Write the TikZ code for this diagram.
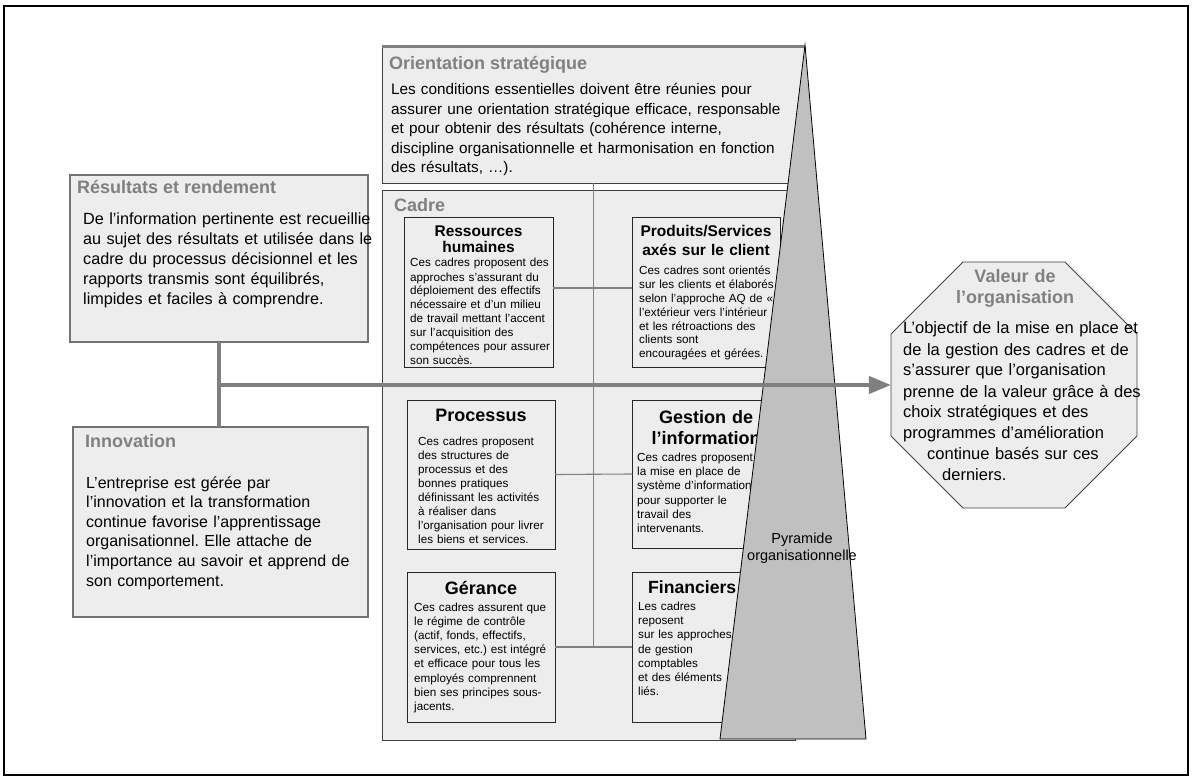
\documentclass[tikz,border=0pt]{standalone}
\usepackage{fontspec}
\setmainfont{Liberation Sans}
\frenchspacing
\usetikzlibrary{arrows.meta,shapes.geometric}
\definecolor{boxfill}{RGB}{237,237,237}
\definecolor{ttlgray}{RGB}{128,128,128}
\definecolor{pyrgray}{RGB}{192,192,192}
\definecolor{lngray}{RGB}{128,128,128}
\begin{document}
\begin{tikzpicture}[x=1pt,y=-1pt,
  box/.style={rectangle, draw=black!75, fill=boxfill, line width=0.8pt, inner sep=0, outer sep=0, anchor=north west},
  lbox/.style={box, draw=black!55, line width=1.2pt},
  ibox/.style={box, draw=black!85, line width=0.9pt},
  conn/.style={draw=lngray, line width=1.1pt},
  bigline/.style={draw=lngray, line width=4pt},
  ttl/.style={inner sep=0, anchor=base west, text=ttlgray, font=\fontsize{18}{21}\selectfont\bfseries},
  body/.style={inner sep=0, anchor=base west, align=left, text width=420pt},
  sbody/.style={body, font=\fontsize{11.7}{14}\selectfont},
  ctitle/.style={inner sep=0, anchor=base, align=center, text width=150pt}
]
\useasboundingbox (0,0) rectangle (1192,778);
\draw[line width=2pt] (4,6) rectangle (1188,775);

% main boxes
\node[box, minimum width=423pt, minimum height=136pt] (ori) at (382,47) {};
\draw[lngray, line width=3pt] (ori.north west) -- (ori.north east);
\node[box, minimum width=413pt, minimum height=550pt] (cad) at (382,190) {};
\node[lbox, minimum width=298pt, minimum height=167pt] (res) at (70,175) {};
\node[lbox, minimum width=295pt, minimum height=190pt] (inn) at (73,427) {};

% inner boxes
\node[ibox, minimum width=149pt, minimum height=150pt] (rh) at (404,217) {};
\node[ibox, minimum width=148pt, minimum height=150pt] (ps) at (632,217) {};
\node[ibox, minimum width=148pt, minimum height=149pt] (pro) at (407,400) {};
\node[ibox, minimum width=148pt, minimum height=148pt] (ges) at (632,400) {};
\node[ibox, minimum width=148pt, minimum height=150pt] (ger) at (407,572) {};
\node[ibox, minimum width=148pt, minimum height=150pt] (fin) at (632,572) {};

% connectors
\draw[conn] ([yshift=4pt]rh.east) -- ([yshift=4pt]ps.west);
\draw[conn] (pro.east) -- (ges.west);
\draw[conn] (ger.east) -- (fin.west);
\draw[conn] (ori.south) -- (ori.south |- ger.east);

% texts
\node[ttl] (oriT) at (389,70) {Orientation stratégique};
\node[body, font=\fontsize{15.3}{19.5}\selectfont] (oriB) at (391,95) {Les conditions essentielles doivent être réunies pour\\
assurer une orientation stratégique efficace, responsable\\
et pour obtenir des résultats (cohérence interne,\\
discipline organisationnelle et harmonisation en fonction\\
des résultats, …).};

\node[ttl] (resT) at (77,194) {Résultats et rendement};
\node[body, font=\fontsize{16.2}{20}\selectfont] (resB) at (83,225) {De l’information pertinente est recueillie\\
au sujet des résultats et utilisée dans le\\
cadre du processus décisionnel et les\\
rapports transmis sont équilibrés,\\
limpides et faciles à comprendre.};

\node[ttl] (innT) at (85,447) {Innovation};
\node[body, font=\fontsize{16}{19.6}\selectfont] (innB) at (86,488) {L’entreprise est gérée par\\
l’innovation et la transformation\\
continue favorise l’apprentissage\\
organisationnel. Elle attache de\\
l’importance au savoir et apprend de\\
son comportement.};

\node[ttl] (cadT) at (394,212) {Cadre};

\node[ctitle, font=\fontsize{15.5}{16}\selectfont\bfseries] (rhT) at (478.5,237) {Ressources\\humaines};
\node[sbody] (rhB) at (410,267) {Ces cadres proposent des\\
approches s’assurant du\\
déploiement des effectifs\\
nécessaire et d’un milieu\\
de travail mettant l’accent\\
sur l’acquisition des\\
compétences pour assurer\\
son succès.};

\node[ctitle, font=\fontsize{15.5}{19}\selectfont\bfseries] (psT) at (706,237) {Produits/Services\\axés sur le client};
\node[sbody, font=\fontsize{11.7}{13.8}\selectfont] (psB) at (639,275) {Ces cadres sont orientés\\
sur les clients et élaborés\\
selon l’approche AQ de «\\
l’extérieur vers l’intérieur\\
et les rétroactions des\\
clients sont\\
encouragées et gérées.};

\node[ctitle, font=\fontsize{18}{21}\selectfont\bfseries] (proT) at (481,421) {Processus};
\node[sbody] (proB) at (418,445) {Ces cadres proposent\\
des structures de\\
processus et des\\
bonnes pratiques\\
définissant les activités\\
à réaliser dans\\
l’organisation pour livrer\\
les biens et services.};

\node[ctitle, font=\fontsize{18}{21}\selectfont\bfseries] (gesT) at (706,423) {Gestion de\\l’information};
\node[sbody, font=\fontsize{11.7}{14.2}\selectfont] (gesB) at (637,461.5) {Ces cadres proposent\\
la mise en place de\\
système d’information\\
pour supporter le\\
travail des\\
intervenants.};

\node[ctitle, font=\fontsize{18}{21}\selectfont\bfseries] (gerT) at (481,594) {Gérance};
\node[sbody, font=\fontsize{11.7}{14.1}\selectfont] (gerB) at (414,611.5) {Ces cadres assurent que\\
le régime de contrôle\\
(actif, fonds, effectifs,\\
services, etc.) est intégré\\
et efficace pour tous les\\
employés comprennent\\
bien ses principes sous-\\
jacents.};

\node[inner sep=0, anchor=base west, font=\fontsize{17.6}{21}\selectfont\bfseries] (finT) at (648,593) {Financiers};
\node[sbody, font=\fontsize{11.7}{14.2}\selectfont] (finB) at (638,610.5) {Les cadres\\
reposent\\
sur les approches\\
de gestion\\
comptables\\
et des éléments\\
liés.};

% pyramid
\filldraw[fill=pyrgray, draw=black, line width=0.8pt] (805,45) -- (866,739) -- (720,739) -- cycle;
\node[ctitle, text width=130pt, font=\fontsize{14.5}{17}\selectfont] (pyrT) at (802,543) {Pyramide\\organisationnelle};

% octagon
\node[draw=black!75, fill=boxfill, line width=0.9pt, regular polygon, regular polygon sides=8, minimum size=266.3pt, inner sep=0, outer sep=0] (val) at (1014,385) {};
\node[ctitle, text=ttlgray, text width=200pt, font=\fontsize{18}{21}\selectfont\bfseries] (valT) at (1015,283) {Valeur de\\l’organisation};
\node[body, font=\fontsize{16.5}{21}\selectfont] (valB) at (903,334) {L’objectif de la mise en place et\\
de la gestion des cadres et de\\
s’assurer que l’organisation\\
prenne de la valeur grâce à des\\
choix stratégiques et des\\
programmes d’amélioration\\
\hspace*{24pt}continue basés sur ces\\
\hspace*{39pt}derniers.};

% main arrow and junction
\draw[bigline] (res.south) -- (res.south |- inn.north);
\coordinate (jn) at (res.south |- val.west);
\draw[bigline, -{Triangle[length=22pt,width=17pt]}] (jn) -- (val.west);
\end{tikzpicture}
\end{document}
